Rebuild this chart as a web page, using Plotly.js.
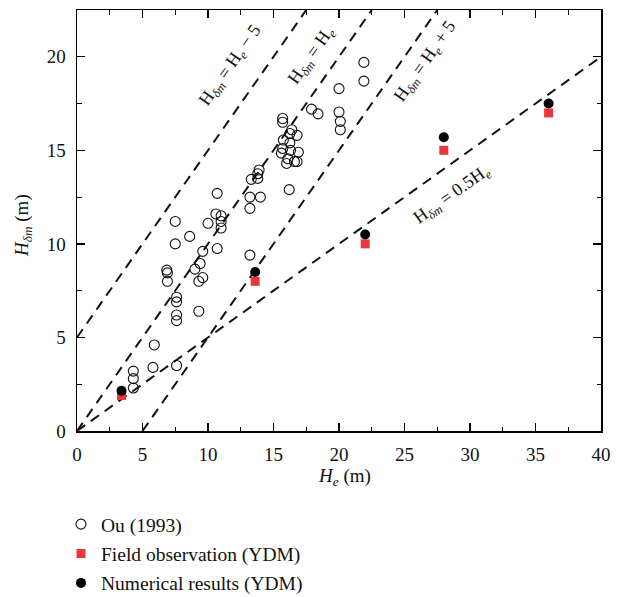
<!DOCTYPE html>
<html>
<head>
<meta charset="utf-8">
<script src="https://cdn.plot.ly/plotly-3.0.1.min.js"></script>
<style>
  html, body { margin: 0; padding: 0; background: #fff; }
  #chart { width: 621px; height: 597px; }
</style>
</head>
<body>
<div id="chart"></div>
<script>
// Ou (1993) case histories: excavation depth He vs. depth of max wall deflection
const ouHe = [4.3, 4.3, 4.3, 5.8, 7.6, 5.9, 7.6, 7.6, 9.3, 7.6, 7.6, 6.9, 6.9, 6.85, 9.3, 9.6, 9.0, 9.4,
  9.6, 7.5, 8.6, 7.5, 10.0, 10.7, 11.0, 11.0, 11.0, 10.6, 10.7,
  13.2, 13.2, 13.2, 14.0, 13.3, 13.8, 13.8, 13.9, 16.2, 16.0, 16.1, 16.6, 16.8, 15.6, 16.9, 15.75,
  15.7, 16.3, 16.25, 16.25, 16.8, 16.4, 15.7, 15.7, 17.9, 18.4, 20.0, 20.1, 20.1, 20.0, 21.9, 21.9];
const ouHdm = [2.3, 2.8, 3.2, 3.4, 3.5, 4.6, 5.9, 6.2, 6.4, 6.9, 7.15, 8.0, 8.45, 8.6, 8.0, 8.2, 8.65, 8.95,
  9.6, 10.0, 10.4, 11.2, 11.1, 9.75, 10.85, 11.2, 11.5, 11.6, 12.7,
  9.4, 11.9, 12.5, 12.5, 13.45, 13.5, 13.75, 13.95, 12.9, 14.3, 14.55, 14.4, 14.4, 14.85, 14.9, 15.55,
  15.1, 15.0, 15.4, 15.9, 15.8, 16.1, 16.5, 16.7, 17.2, 16.95, 17.05, 16.55, 16.1, 18.3, 18.7, 19.7];

// YDM: field observations and numerical results
const ydmHe = [3.4, 13.6, 22, 28, 36];
const fieldHdm = [1.9, 8.0, 10.0, 15.0, 17.0];
const numericHdm = [2.15, 8.5, 10.5, 15.7, 17.5];

// Reference lines (endpoints inside the axes box)
const linePlus5X = [0, 17.5],  linePlus5Y = [5, 22.5];
const lineEqX = [0, 22.5],     lineEqY = [0, 22.5];
const lineMinus5X = [5, 27.5], lineMinus5Y = [0, 22.5];
const lineHalfX = [0, 40],     lineHalfY = [0, 20];

const xTicks = [0, 5, 10, 15, 20, 25, 30, 35, 40];
const yTicks = [0, 5, 10, 15, 20];

const SERIF = 'Liberation Serif, Times New Roman, serif';
const dashLine = { color: '#111', width: 2, dash: '10px,7px' };

function refLine(x, y) {
  return { x: x, y: y, mode: 'lines', line: dashLine, showlegend: false, hoverinfo: 'skip' };
}

const traces = [
  refLine(linePlus5X, linePlus5Y),
  refLine(lineEqX, lineEqY),
  refLine(lineMinus5X, lineMinus5Y),
  refLine(lineHalfX, lineHalfY),
  {
    x: ouHe, y: ouHdm, mode: 'markers', name: 'Ou (1993)', legendgroup: 'a',
    marker: { symbol: 'circle-open', size: 10, color: '#111', line: { width: 1.1 } }
  },
  {
    x: ydmHe, y: fieldHdm, mode: 'markers', name: 'Field observation (YDM)', legendgroup: 'b',
    marker: { symbol: 'square', size: 9, color: '#e8363d' }
  },
  {
    x: ydmHe, y: numericHdm, mode: 'markers', name: 'Numerical results (YDM)', legendgroup: 'c',
    marker: { symbol: 'circle', size: 10, color: '#000' }
  }
];

function lineLabel(x, y, text, angle) {
  return {
    x: x, y: y, xref: 'x', yref: 'y', text: text, showarrow: false, textangle: angle,
    xanchor: 'center', yanchor: 'middle',
    font: { family: SERIF, size: 18, color: '#111' }
  };
}

const axisCommon = {
  showgrid: false, zeroline: false, showline: true, linecolor: '#000', linewidth: 1.5,
  mirror: 'ticks', ticks: 'inside', ticklen: 8, tickwidth: 1.3, tickcolor: '#000',
  tickfont: { family: SERIF, size: 19, color: '#111' }, automargin: false, ticklabelstandoff: 6,
  minor: { ticks: 'inside', ticklen: 4.5, tickwidth: 1.2, tickcolor: '#000', dtick: 2.5, showgrid: false }
};

const titleFont = { family: SERIF, size: 19, color: '#111' };

const layout = {
  width: 621, height: 597,
  margin: { l: 77, r: 20, t: 10, b: 166, autoexpand: false },
  paper_bgcolor: '#fff', plot_bgcolor: '#fff',
  showlegend: true,
  xaxis: Object.assign({}, axisCommon, { range: [0, 40], tickvals: xTicks }),
  yaxis: Object.assign({}, axisCommon, { range: [0, 22.5], tickvals: yTicks }),
  legend: {
    xref: 'container', yref: 'container', x: 61 / 621, y: 1 - 505 / 597,
    xanchor: 'left', yanchor: 'top', traceorder: 'grouped', tracegroupgap: 1,
    font: { family: SERIF, size: 19.5, color: '#111' }, bgcolor: 'rgba(0,0,0,0)'
  },
  annotations: [
    // axis titles
    { xref: 'paper', yref: 'paper', x: 0.511, y: -0.109, xanchor: 'center', yanchor: 'middle',
      showarrow: false, text: '<i>H</i><sub><i>e</i></sub> (m)', font: titleFont },
    { xref: 'paper', yref: 'paper', x: -0.103, y: 0.487, xanchor: 'center', yanchor: 'middle',
      showarrow: false, textangle: -90, text: '<i>H</i><sub><i>δm</i></sub> (m)', font: titleFont },
    // reference-line labels
    lineLabel(11.76, 19.52, 'H<sub><i>δm</i></sub> = H<sub><i>e</i></sub> − 5', -55),
    lineLabel(17.94, 20.05, 'H<sub><i>δm</i></sub> = H<sub><i>e</i></sub>', -55),
    lineLabel(26.64, 19.73, 'H<sub><i>δm</i></sub> = H<sub><i>e</i></sub> + 5', -55),
    lineLabel(28.7, 12.62, 'H<sub><i>δm</i></sub> = 0.5H<sub><i>e</i></sub>', -35.5)
  ]
};

Plotly.newPlot('chart', traces, layout, { displayModeBar: false, staticPlot: true });
</script>
</body>
</html>
